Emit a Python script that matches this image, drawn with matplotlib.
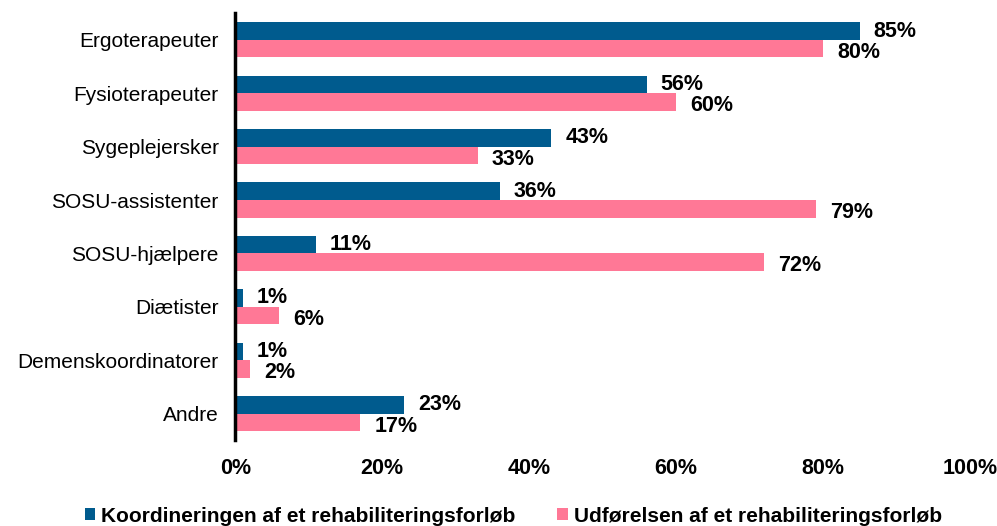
import numpy as np
import matplotlib
matplotlib.use("Agg")
from matplotlib import pyplot as plt

plt.rcParams['font.family'] = ['Liberation Sans', 'DejaVu Sans']

categories = ["Ergoterapeuter", "Fysioterapeuter", "Sygeplejersker", "SOSU-assistenter",
              "SOSU-hjælpere", "Diætister", "Demenskoordinatorer", "Andre"]
koordinering = [85, 56, 43, 36, 11, 1, 1, 23]
udfoerelse = [80, 60, 33, 79, 72, 6, 2, 17]
series_names = ["Koordineringen af et rehabiliteringsforløb", "Udførelsen af et rehabiliteringsforløb"]
colors = ["#005b8e", "#ff7896"]

fig = plt.figure(figsize=(9.97, 5.26), dpi=100)
ax = fig.add_axes([0.236, 0.163, 0.737, 0.812])

y = np.arange(len(categories))
h = 0.33
b1 = ax.barh(y - h/2, np.array(koordinering)/100, height=h, color=colors[0], label=series_names[0])
b2 = ax.barh(y + h/2, np.array(udfoerelse)/100, height=h, color=colors[1], label=series_names[1])

# value labels, pink ones nudged down a little so the small pairs don't collide
for bars, vals, dy in ((b1, koordinering, 0.0), (b2, udfoerelse, 0.07)):
    for bar, v in zip(bars, vals):
        ax.text(bar.get_width() + 0.019, bar.get_y() + bar.get_height()/2 + dy, f"{v}%",
                va="center", ha="left", fontsize=15.5, fontweight="bold")

ax.set_xlim(0, 1)
ax.set_ylim(7.5, -0.5)
ax.set_yticks(y)
ax.set_yticklabels(categories, fontsize=15)
ax.set_xticks(np.linspace(0, 1, 6))
ax.set_xticklabels([f"{int(t)}%" for t in np.linspace(0, 100, 6)], fontsize=15.5, fontweight="bold")
ax.tick_params(axis="both", length=0)
ax.tick_params(axis="x", pad=13)
ax.tick_params(axis="y", pad=12)
for s in ["top", "right", "bottom"]:
    ax.spines[s].set_visible(False)
ax.spines["left"].set_linewidth(2.5)

fig.legend(handles=[b1, b2], loc="lower center", bbox_to_anchor=(0.515, -0.035), ncol=2, frameon=False,
           prop={"weight": "bold", "size": 15}, handlelength=0.5, handleheight=0.5,
           handletextpad=0.3, columnspacing=2.0)

fig.savefig("out.png", dpi=100)
